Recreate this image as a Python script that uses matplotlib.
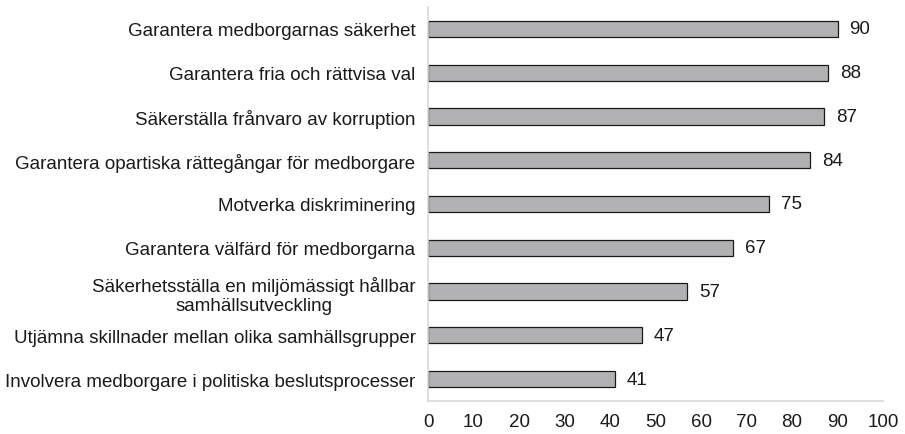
import matplotlib.pyplot as plt

plt.rcParams['font.family'] = ['Liberation Sans', 'DejaVu Sans']

categories = [
    "Garantera medborgarnas säkerhet",
    "Garantera fria och rättvisa val",
    "Säkerställa frånvaro av korruption",
    "Garantera opartiska rättegångar för medborgare",
    "Motverka diskriminering",
    "Garantera välfärd för medborgarna",
    "Säkerhetsställa en miljömässigt hållbar\nsamhällsutveckling",
    "Utjämna skillnader mellan olika samhällsgrupper",
    "Involvera medborgare i politiska beslutsprocesser",
]
values = [90, 88, 87, 84, 75, 67, 57, 47, 41]
xticks = list(range(0, 101, 10))

fig = plt.figure(figsize=(9.05, 4.35), dpi=100)
ax = fig.add_axes([428 / 905, 33 / 435, 455 / 905, 394 / 435])

pos = list(range(len(categories)))[::-1]
ax.barh(pos, values, height=0.37, color='#b1b1b3', edgecolor='#1a1a1a', linewidth=0.9)

for p, v in zip(pos, values):
    ax.annotate(str(v), (v, p), xytext=(8.5, 0), textcoords='offset points',
                va='center', ha='left', fontsize=13.5, color='#1a1a1a')

ax.set_xlim(0, 100)
ax.set_ylim(-0.5, len(categories) - 0.5)
ax.set_xticks(xticks)
ax.set_yticks(pos)
ax.set_yticklabels(categories, multialignment='center')
ax.tick_params(axis='both', length=0, labelsize=13.5, colors='#1a1a1a')
ax.tick_params(axis='y', pad=9)
ax.tick_params(axis='x', pad=9)

for s in ['top', 'right']:
    ax.spines[s].set_visible(False)
for s in ['left', 'bottom']:
    ax.spines[s].set_color('#d9d9d9')
    ax.spines[s].set_linewidth(1.2)

fig.savefig('out.png', dpi=100)
